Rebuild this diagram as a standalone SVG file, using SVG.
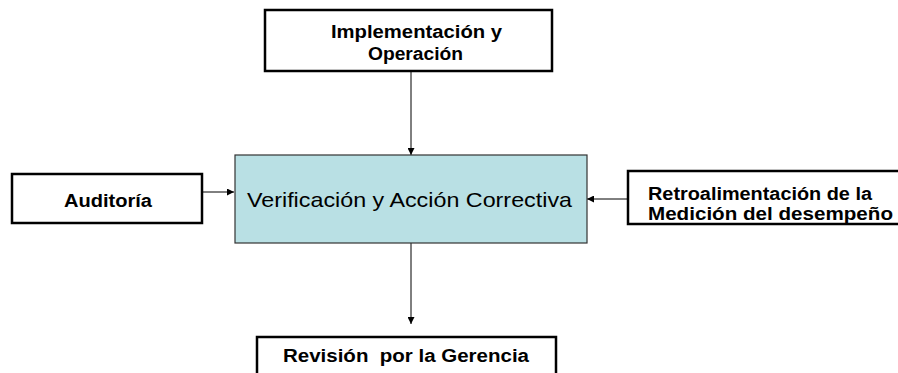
<svg xmlns="http://www.w3.org/2000/svg" width="898" height="373" viewBox="0 0 898 373">
<defs>
<style>
.box{fill:#fff;stroke:#000;stroke-width:2.5}
.main{fill:#b9e0e4;stroke:#333;stroke-width:1.2}
.b{font-family:"Liberation Sans",Arial,sans-serif;font-weight:bold;font-size:18px;fill:#000}
.r{font-family:"Liberation Sans",Arial,sans-serif;font-size:21px;fill:#000}
.c{stroke:#000;stroke-width:1;fill:none;marker-end:url(#ah)}
</style>
<marker id="ah" viewBox="0 0 10 10" refX="10" refY="5" markerWidth="7" markerHeight="7" markerUnits="userSpaceOnUse" orient="auto">
<path d="M0,0 L10,5 L0,10 z" fill="#000"/>
</marker>
</defs>
<rect width="898" height="373" fill="#fff"/>
<g id="connectors">
<line class="c" x1="411" y1="71" x2="411" y2="155"/>
<line class="c" x1="202" y1="192" x2="234" y2="192"/>
<line class="c" x1="628" y1="199" x2="587" y2="199"/>
<line class="c" x1="411" y1="243" x2="411" y2="324"/>
</g>
<g id="implementacion">
<rect class="box" x="265" y="10" width="287" height="61"/>
<text class="b" x="331" y="37.5" textLength="171" lengthAdjust="spacingAndGlyphs">Implementación y</text>
<text class="b" x="368" y="59.5" textLength="95" lengthAdjust="spacingAndGlyphs">Operación</text>
</g>
<g id="verificacion">
<rect class="main" x="235" y="155" width="352" height="88"/>
<text class="r" x="247" y="207" textLength="325" lengthAdjust="spacingAndGlyphs">Verificación y Acción Correctiva</text>
</g>
<g id="auditoria">
<rect class="box" x="12" y="174" width="190" height="49"/>
<text class="b" x="64" y="207" textLength="88" lengthAdjust="spacingAndGlyphs">Auditoría</text>
</g>
<g id="retroalimentacion">
<rect class="box" x="628" y="171" width="280" height="53"/>
<text class="b" x="648" y="199.5" textLength="224" lengthAdjust="spacingAndGlyphs">Retroalimentación de la</text>
<text class="b" x="648" y="219.5" textLength="245" lengthAdjust="spacingAndGlyphs">Medición del desempeño</text>
</g>
<g id="revision">
<rect class="box" x="257" y="337" width="299" height="45"/>
<text class="b" x="283" y="362" textLength="246" lengthAdjust="spacingAndGlyphs" xml:space="preserve">Revisión  por la Gerencia</text>
</g>
</svg>
